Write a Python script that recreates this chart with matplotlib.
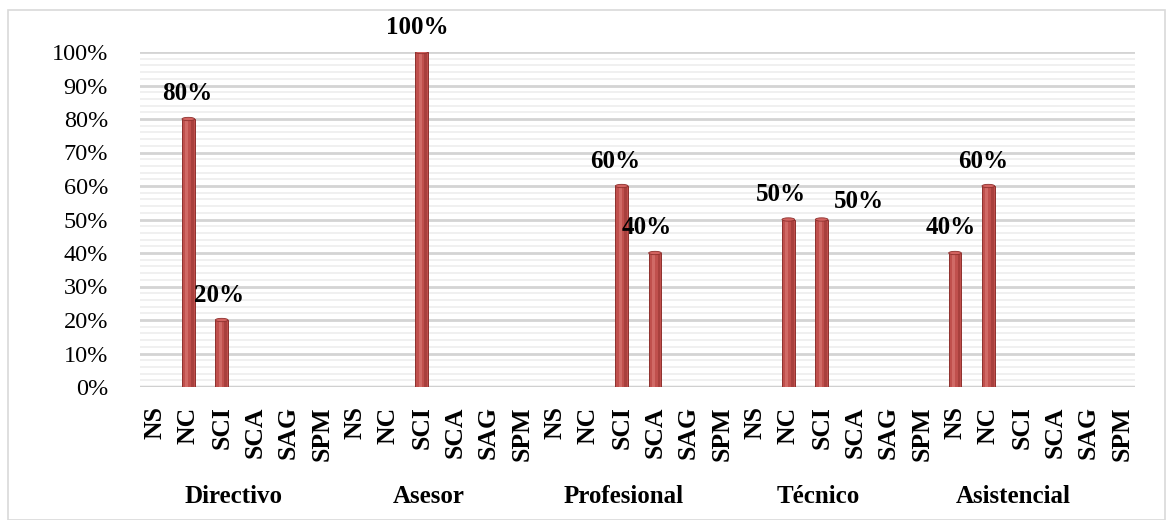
import matplotlib
matplotlib.use("Agg")
import matplotlib.pyplot as plt
from matplotlib.patches import Rectangle, Ellipse
from matplotlib.ticker import MultipleLocator, PercentFormatter
import matplotlib.transforms as mtransforms

groups = ["Directivo", "Asesor", "Profesional", "Técnico", "Asistencial"]
subcats = ["NS", "NC", "SCI", "SCA", "SAG", "SPM"]
directivo = [0, 80, 20, 0, 0, 0]
asesor = [0, 0, 100, 0, 0, 0]
profesional = [0, 0, 60, 40, 0, 0]
tecnico = [0, 50, 50, 0, 0, 0]
asistencial = [40, 60, 0, 0, 0, 0]
series = [directivo, asesor, profesional, tecnico, asistencial]

# label nudges (points) for each nonzero label, in drawing order
label_nudges = [(-1, 0), (-2, 0), (-3, 0), (-5, 0), (-6, 0), (-5, 0), (27, -5), (-3, 0), (-4, 0)]

plt.rcParams['font.family'] = ['Liberation Serif', 'DejaVu Serif']

fig = plt.figure(figsize=(11.73, 5.2), dpi=100)
ax = fig.add_axes([140/1173, 1-387/520, (1135-140)/1173, (387-52)/520])

values = [v for s in series for v in s]
labels = [c for _ in groups for c in subcats]
xs = list(range(len(values)))

bar_color = '#C0504D'
edge_color = '#8E302D'
bw = 0.38
ax.bar(xs, values, width=bw, color=bar_color, edgecolor=edge_color, linewidth=0.7, zorder=3)
# shading stripes for cylindrical look
ax.bar([x - 0.05 for x in xs], values, width=0.09, color='#D06A66', linewidth=0, zorder=4)
ax.bar([x + 0.12 for x in xs], values, width=0.08, color='#A8403D', linewidth=0, zorder=4)
# top caps
for x, v in zip(xs, values):
    if v > 0:
        ax.add_patch(Ellipse((x, v), bw, 1.0, facecolor='#D26360', edgecolor=edge_color,
                             linewidth=0.6, zorder=5))

# labels
k = 0
for x, v in zip(xs, values):
    if v > 0:
        dx, dy = label_nudges[k]
        k += 1
        ax.annotate(f"{v}%", (x, v), xytext=(dx, 18 + dy), textcoords='offset points',
                    ha='center', va='center', fontsize=18, fontweight='bold', zorder=6)

ax.set_xlim(-0.45, 29.4)
ax.set_ylim(0, 100)
ax.yaxis.set_major_locator(MultipleLocator(10))
ax.yaxis.set_minor_locator(MultipleLocator(2))
ax.yaxis.set_major_formatter(PercentFormatter(decimals=0))
ax.grid(axis='y', which='major', color='#D4D4D4', linewidth=2.0, zorder=1)
ax.grid(axis='y', which='minor', color='#EDEDED', linewidth=1.2, zorder=0)
ax.axhline(0, color='#D0D0D0', linewidth=2.5, zorder=2)
for s in ax.spines.values():
    s.set_visible(False)

ax.set_xticks(xs)
ax.set_xticklabels(labels, rotation=90, fontsize=18.5, fontweight='bold', va='top')
ax.tick_params(axis='x', length=0, pad=14)
ax.tick_params(axis='y', which='both', length=0, pad=23, labelsize=17.5)

trans = mtransforms.blended_transform_factory(ax.transData, ax.transAxes)
for g, name in enumerate(groups):
    gc = g * 6 + 2.5 - 0.15 * (g + 1)
    ax.text(gc, -0.328, name, transform=trans, ha='center', va='center',
            fontsize=18, fontweight='bold')

fig.patches.append(Rectangle((8/1173, 0.0), 1157/1173, 1 - 10/520, transform=fig.transFigure,
                             fill=False, edgecolor='#D9D9D9', linewidth=1.2))

fig.savefig("out.png", dpi=100)
